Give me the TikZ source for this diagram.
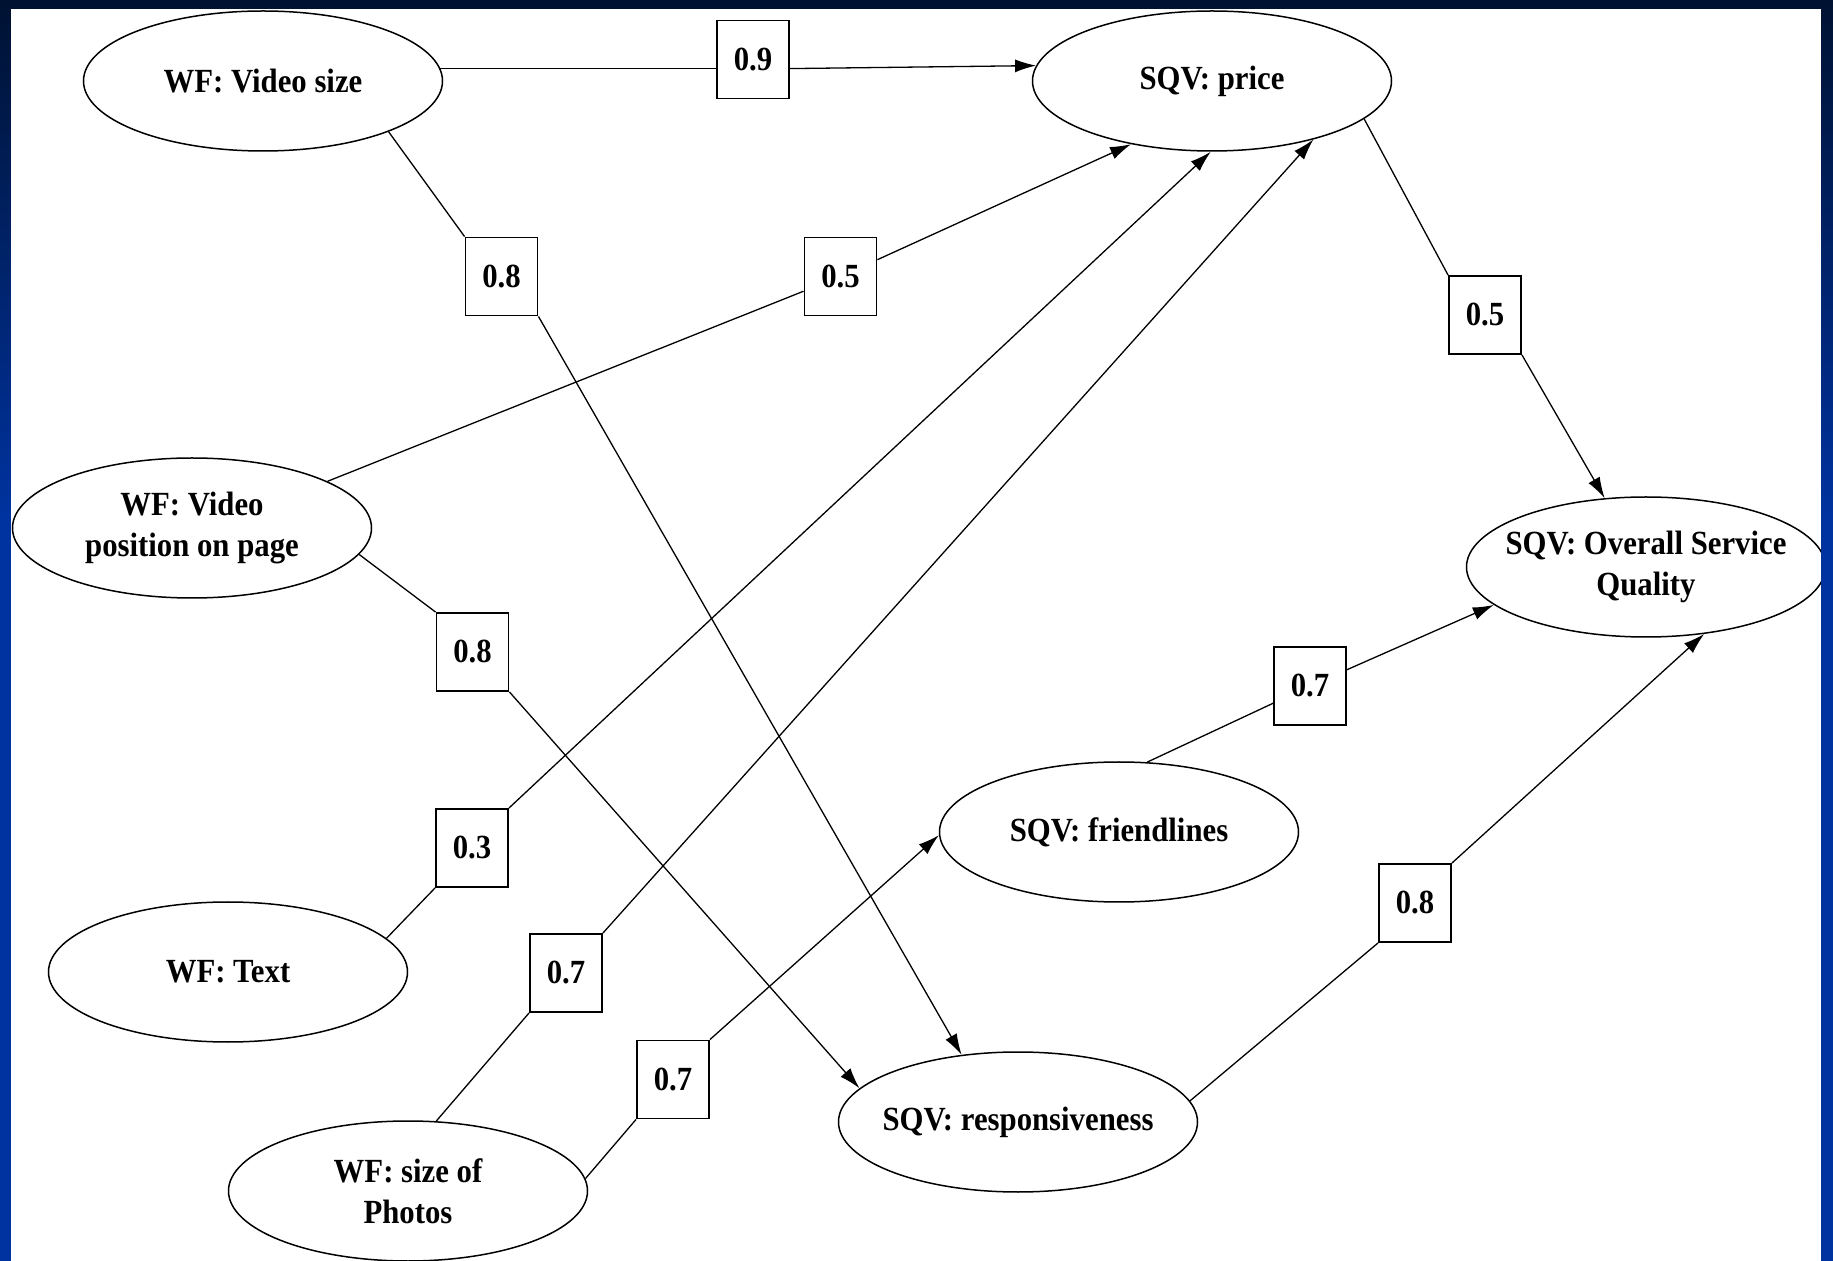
\documentclass[tikz,border=0pt]{standalone}
\usepackage{fontspec}
\setmainfont{Liberation Serif}[FakeStretch=0.91]
\usetikzlibrary{arrows.meta,shapes.geometric}
\definecolor{framedark}{HTML}{001232}
\definecolor{frameblue}{HTML}{0033A0}
\tikzset{
  ell/.style={draw, line width=0.75pt, ellipse, minimum width=179.5pt, minimum height=70pt,
    inner xsep=-50pt, inner ysep=0pt, align=center,
    font=\bfseries\fontsize{16.9}{20.5}\selectfont},
  wbox/.style={draw, line width=0.95pt, fill=white, minimum width=36pt, minimum height=39pt,
    inner sep=0pt, font=\bfseries\fontsize{16.9}{20.5}\selectfont},
  conn/.style={line width=0.65pt},
  arr/.style={conn, -{Latex[length=10.5pt,width=6.5pt]}}
}
\begin{document}
\begin{tikzpicture}[x=0.5pt,y=-0.5pt]
\useasboundingbox (0,0) rectangle (1833,1261);
\fill[frameblue] (0,0) rectangle (1833,1261);
\shade[top color=framedark, bottom color=frameblue] (0,0) rectangle (1833,520);
\fill[white] (11,9) rectangle (1821,1261);
\begin{scope}
\clip (11,9) rectangle (1821,1261);
% ellipses
\node[ell] (vs) at (263,81) {WF: Video size};
\node[ell] (price) at (1212,81) {SQV: price};
\node[ell] (vp) at (192,528) {WF: Video\\position on page};
\node[ell] (overall) at (1646,567) {SQV: Overall Service\\Quality};
\node[ell] (friend) at (1119,832) {SQV: friendlines};
\node[ell] (text) at (228,972) {WF: Text};
\node[ell] (resp) at (1018,1122) {SQV: responsiveness};
\node[ell] (photos) at (408,1191) {WF: size of\\Photos};
% weight boxes
\node[wbox] (b09) at (753,59.5) {0.9};
\node[wbox] (b08a) at (501.5,276.5) {0.8};
\node[wbox] (b05a) at (840.5,276.5) {0.5};
\node[wbox] (b05b) at (1485,315) {0.5};
\node[wbox] (b08b) at (472.5,652) {0.8};
\node[wbox] (b03) at (472,848) {0.3};
\node[wbox] (b07a) at (1310,686) {0.7};
\node[wbox] (b07b) at (566,973) {0.7};
\node[wbox] (b07c) at (673,1079.5) {0.7};
\node[wbox] (b08c) at (1415,903) {0.8};
% connectors
\draw[conn] (vs.4.5) -- (vs.4.5 -| b09.west);
\draw[arr] (vs.4.5 -| b09.east) -- (price.175.5);
\draw[conn] (vs.-22.1) -- (b08a.north west);
\draw[arr] (b08a.south east) -- (resp.130);
\draw[conn] (vp.19.4) -- (b05a);
\draw[arr] (b05a) -- (price.218);
\draw[conn] (vp.-9.3) -- (b08b.north west);
\draw[arr] (b08b.south east) -- (resp.168.9);
\draw[conn] (text.12.3) -- (b03.south west);
\draw[arr] (b03.north east) -- (price.-91.5);
\draw[conn] (photos.68.6) -- (b07b.south west);
\draw[arr] (b07b.north east) -- (price.-30.3);
\draw[conn] (photos.4.2) -- (b07c.south west);
\draw[arr] (b07c.north east) -- (friend.181.3);
\draw[conn] (price.-14.2) -- (b05b.north west);
\draw[arr] (b05b.south east) -- (overall.121.5);
\draw[conn] (friend.68.9) -- (b07a);
\draw[arr] (b07a) -- (overall.194);
\draw[conn] (resp.7.6) -- (b08c.south west);
\draw[arr] (b08c.north east) -- (overall.-49);
\end{scope}
\end{tikzpicture}
\end{document}
